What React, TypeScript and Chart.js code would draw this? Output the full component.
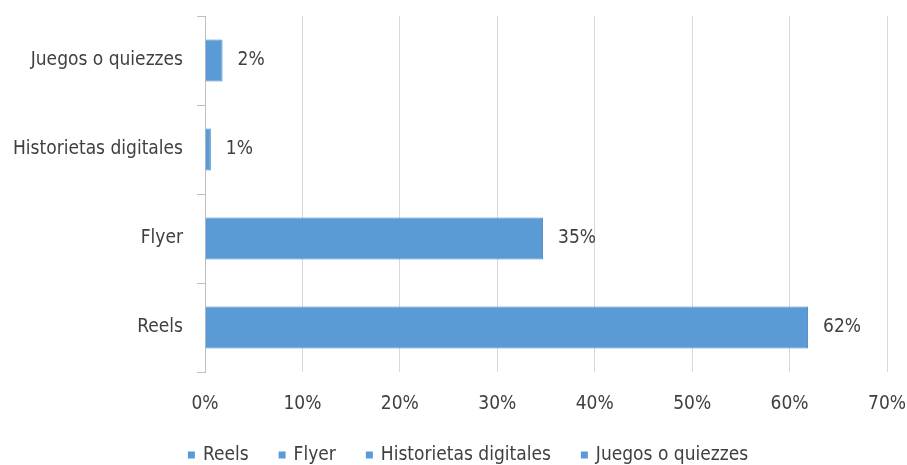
import React, { useEffect, useRef } from "react";
import { Chart, registerables } from "chart.js";

Chart.register(...registerables);

const categories = ["Juegos o quiezzes", "Historietas digitales", "Flyer", "Reels"];
const values = [1.8, 0.6, 34.7, 61.9];
const legendLabels = ["Reels", "Flyer", "Historietas digitales", "Juegos o quiezzes"];
const xTicks = [0, 10, 20, 30, 40, 50, 60, 70];

const FONT = "'DejaVu Sans Condensed', 'Open Sans', sans-serif";
const SIZE = 19;
const TEXT = "#404040";
const BLUE = "#5b9bd5";

const labelPlugin = {
  id: "barLabels",
  afterDatasetsDraw(chart: any) {
    const ctx = chart.ctx;
    const meta = chart.getDatasetMeta(0);
    ctx.save();
    ctx.font = `${SIZE}px ${FONT}`;
    ctx.fillStyle = TEXT;
    ctx.textAlign = "left";
    ctx.textBaseline = "middle";
    meta.data.forEach((bar: any, i: number) => {
      ctx.fillText(Math.round(values[i]) + "%", bar.x + 15, bar.y);
    });
    ctx.restore();
  },
};

const legendPlugin = {
  id: "bottomLegend",
  afterDraw(chart: any) {
    const ctx = chart.ctx;
    ctx.save();
    ctx.font = `${SIZE}px ${FONT}`;
    const box = 7;
    const gap = 8;
    const spacing = 30;
    const widths = legendLabels.map((t) => ctx.measureText(t).width);
    const total =
      widths.reduce((a, b) => a + b, 0) + legendLabels.length * (box + gap) + spacing * (legendLabels.length - 1);
    const center = 468;
    const y = 455;
    let x = center - total / 2;
    ctx.textBaseline = "middle";
    ctx.textAlign = "left";
    legendLabels.forEach((t, i) => {
      ctx.fillStyle = BLUE;
      ctx.fillRect(x, y - box / 2, box, box);
      x += box + gap;
      ctx.fillStyle = TEXT;
      ctx.fillText(t, x, y);
      x += widths[i] + spacing;
    });
    ctx.restore();
  },
};

export default function App() {
  const ref = useRef<HTMLCanvasElement>(null);
  useEffect(() => {
    document.body.style.margin = "0";
    const chart = new Chart(ref.current!, {
      type: "bar",
      data: {
        labels: categories,
        datasets: [
          {
            data: values,
            backgroundColor: BLUE,
            borderColor: "#4a88c6",
            borderWidth: 1,
            barPercentage: 0.47,
            categoryPercentage: 1,
          },
        ],
      },
      options: {
        indexAxis: "y",
        animation: false,
        responsive: false,
        layout: { padding: { left: 8, right: 20, top: 16, bottom: 43 } },
        scales: {
          x: {
            min: 0,
            max: 70,
            afterBuildTicks: (scale: any) => {
              scale.ticks = xTicks.map((v) => ({ value: v }));
            },
            afterFit: (scale: any) => {
              scale.height = 50;
              scale.paddingLeft = 0;
              scale.paddingRight = 0;
            },
            ticks: {
              callback: (v: any) => v + "%",
              font: { family: FONT, size: SIZE },
              color: TEXT,
              padding: 21,
              maxRotation: 0,
            },
            grid: { color: "#d9d9d9", drawTicks: false, lineWidth: 1 },
            border: { display: false },
          },
          y: {
            afterFit: (scale: any) => {
              scale.width = 197;
              scale.paddingTop = 0;
              scale.paddingBottom = 0;
            },
            ticks: {
              font: { family: FONT, size: SIZE },
              color: TEXT,
              padding: 14,
            },
            grid: {
              offset: true,
              drawOnChartArea: false,
              drawTicks: true,
              tickLength: 8,
              color: "#bfbfbf",
            },
            border: { display: true, color: "#bfbfbf" },
          },
        },
        plugins: {
          tooltip: { enabled: false },
          legend: { display: false },
        },
      },
      plugins: [labelPlugin, legendPlugin],
    });
    return () => chart.destroy();
  }, []);
  return (
    <div style={{ position: "absolute", left: 0, top: 0, width: 907, height: 465 }}>
      <canvas ref={ref} width={907} height={465} style={{ width: 907, height: 465 }} />
    </div>
  );
}
